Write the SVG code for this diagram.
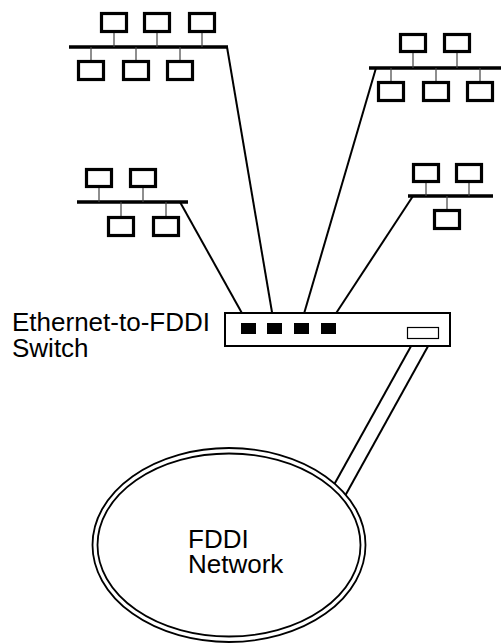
<svg xmlns="http://www.w3.org/2000/svg" width="501" height="644" viewBox="0 0 501 644">
<style>
.box{fill:#fff;stroke:#000;stroke-width:3.2}
.bus{stroke:#000;stroke-width:3.5;fill:none}
.stub{stroke:#444;stroke-width:1.2;fill:none}
.link{stroke:#000;stroke-width:2;fill:none}
.port{fill:#000}
.lbl{font-family:"Liberation Sans",Arial,sans-serif;font-size:26px;fill:#000}
</style>
<rect width="501" height="644" fill="#fff"/>
<g id="connectors">
<line class="link" x1="180" y1="202" x2="248" y2="324"/>
<line class="link" x1="227" y1="47" x2="274" y2="324"/>
<line class="link" x1="376" y1="68" x2="301" y2="324"/>
<line class="link" x1="413" y1="196" x2="329" y2="324"/>
<line class="link" x1="415" y1="339" x2="330" y2="492"/>
<line class="link" x1="432" y1="339" x2="345" y2="496"/>
</g>
<g id="lan-top-left">
<line class="bus" x1="69" y1="47" x2="228" y2="47"/>
<path class="stub" d="M114 33V47M157 33V47M202 33V47M91 47V60M136 47V60M180 47V60"/>
<rect class="box" x="101.5" y="13.5" width="25" height="18"/>
<rect class="box" x="144.5" y="13.5" width="25" height="18"/>
<rect class="box" x="189.5" y="13.5" width="25" height="18"/>
<rect class="box" x="78.5" y="61.5" width="25" height="18"/>
<rect class="box" x="123.5" y="61.5" width="25" height="18"/>
<rect class="box" x="167.5" y="61.5" width="25" height="18"/>
</g>
<g id="lan-top-right">
<line class="bus" x1="369" y1="68" x2="501" y2="68"/>
<path class="stub" d="M413 53V68M457 53V68M391 68V81M436 68V81M480 68V81"/>
<rect class="box" x="400.5" y="34.5" width="25" height="17"/>
<rect class="box" x="444.5" y="34.5" width="25" height="17"/>
<rect class="box" x="378.5" y="82.5" width="25" height="18"/>
<rect class="box" x="423.5" y="82.5" width="25" height="18"/>
<rect class="box" x="467.5" y="82.5" width="25" height="18"/>
</g>
<g id="lan-mid-left">
<line class="bus" x1="77" y1="202" x2="188" y2="202"/>
<path class="stub" d="M99 188V202M143 188V202M121 202V216M166 202V216"/>
<rect class="box" x="86.5" y="169.5" width="25" height="17"/>
<rect class="box" x="130.5" y="169.5" width="25" height="17"/>
<rect class="box" x="108.5" y="217.5" width="25" height="18"/>
<rect class="box" x="153.5" y="217.5" width="25" height="18"/>
</g>
<g id="lan-mid-right">
<line class="bus" x1="408" y1="196" x2="493" y2="196"/>
<path class="stub" d="M426 183V196M469 183V196M447 196V209"/>
<rect class="box" x="413.5" y="164.5" width="25" height="17"/>
<rect class="box" x="456.5" y="164.5" width="25" height="17"/>
<rect class="box" x="434.5" y="210.5" width="25" height="18"/>
</g>
<g id="switch">
<rect x="225" y="313" width="225" height="33" fill="#fff" stroke="#000" stroke-width="2"/>
<rect class="port" x="241" y="323" width="15" height="11"/>
<rect class="port" x="267" y="323" width="15" height="11"/>
<rect class="port" x="294" y="323" width="15" height="11"/>
<rect class="port" x="321" y="323" width="15" height="11"/>
<rect x="407.5" y="327.5" width="31" height="11" fill="#fff" stroke="#000" stroke-width="1.2"/>
<text class="lbl" x="12" y="331">Ethernet-to-FDDI</text>
<text class="lbl" x="12" y="357">Switch</text>
</g>
<g id="fddi">
<ellipse cx="229" cy="545" rx="136.5" ry="97" fill="#fff" stroke="#000" stroke-width="1.8"/>
<ellipse cx="229" cy="545" rx="131.5" ry="91.5" fill="none" stroke="#000" stroke-width="1.8"/>
<text class="lbl" x="188" y="548">FDDI</text>
<text class="lbl" x="188" y="573">Network</text>
</g>
</svg>
